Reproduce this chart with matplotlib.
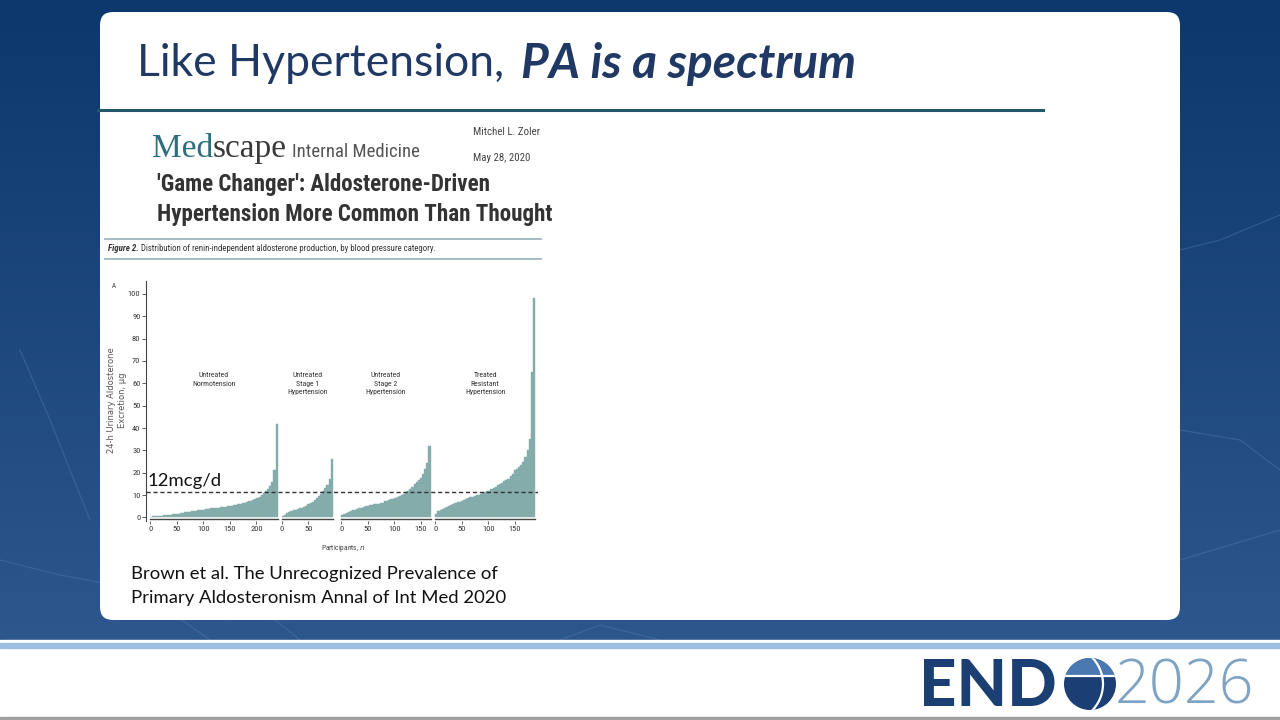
import numpy as np
import matplotlib
matplotlib.use("Agg")
import matplotlib.pyplot as plt
from matplotlib import font_manager
from matplotlib.patches import FancyBboxPatch, Circle, Rectangle, Ellipse

# sorted 24-h urinary aldosterone (ug), one value per bin of 4 participants
normo = [0.3, 0.4, 0.5, 0.6, 0.7, 0.8, 0.9, 1.0, 1.1, 1.2,
         1.3, 1.4, 1.5, 1.7, 1.9, 2.0, 2.2, 2.4, 2.6, 2.8,
         2.9, 3.0, 3.2, 3.3, 3.4, 3.5, 3.7, 3.8, 4.0, 4.1,
         4.2, 4.3, 4.4, 4.5, 4.7, 4.8, 5.0, 5.1, 5.3, 5.5,
         5.7, 5.9, 6.1, 6.3, 6.5, 6.8, 7.1, 7.4, 7.8, 8.2,
         8.7, 9.3, 10.0, 10.8, 11.7, 12.8, 14.0, 16.0, 21.0, 42.0]
stage1 = [0.6, 1.2, 1.8, 2.4, 3.0, 3.2,
          3.4, 3.7, 4.0, 4.4, 4.8, 5.3,
          5.8, 6.4, 7.0, 7.7, 8.5, 9.5,
          10.5, 11.7, 13.0, 14.5, 17.0, 26.0]
stage2 = [1.0, 1.5, 2.0, 2.4, 2.8, 3.1, 3.4, 3.7, 4.0, 4.3,
          4.6, 4.9, 5.2, 5.5, 5.7, 5.9, 6.0, 6.2, 6.4, 6.6,
          7.2, 7.5, 7.8, 8.1, 8.4, 8.7, 9.0, 9.4, 9.9, 10.5,
          11.3, 12.0, 12.8, 13.6, 14.8, 15.8, 16.5, 17.5, 19.5, 21.5,
          24.5, 32.0]
resistant = [1.5, 2.8, 3.4, 3.9, 4.3, 4.7, 5.1, 5.5, 5.9, 6.3,
             6.7, 7.0, 7.4, 7.8, 8.2, 8.6, 8.9, 9.2, 9.5, 9.8,
             10.0, 10.4, 10.8, 11.2, 11.6, 12.0, 12.6, 13.2, 13.8, 14.4,
             15.0, 15.6, 16.2, 16.6, 17.0, 18.5, 19.5, 21.0, 21.5, 22.5,
             23.5, 25.0, 27.0, 30.0, 35.0, 65.0, 98.0]
groups = [normo, stage1, stage2, resistant]
group_names = ["Untreated\nNormotension",
               "Untreated\nStage 1\nHypertension",
               "Untreated\nStage 2\nHypertension",
               "Treated\nResistant\nHypertension"]
group_ticks = [[0, 50, 100, 150, 200], [0, 50], [0, 50, 100, 150], [0, 50, 100, 150]]
group_start = [0, 248, 360, 537]
bin_n = 4
threshold = 11.5
y_ticks = list(range(0, 101, 10))

# pick a condensed sans if one is installed
fonts = font_manager.fontManager.ttflist
names = {f.name for f in fonts}
narrow, stretch = "Roboto", "normal"
for cand in ["Liberation Sans Narrow", "Roboto Condensed", "Noto Sans Condensed",
             "Open Sans Condensed", "DejaVu Sans Condensed"]:
    if cand in names:
        narrow = cand
        break
else:
    for f in fonts:
        if f.name in ("Noto Sans", "DejaVu Sans", "Open Sans") and f.stretch in ("condensed", "semi-condensed"):
            narrow, stretch = f.name, f.stretch
            break
NARROW = dict(family=narrow, stretch=stretch)

slide_font = "Lato"
navy = "#1f3864"
bar_color = "#84acaa"

fig = plt.figure(figsize=(12.8, 7.2), dpi=100)
renderer = fig.canvas.get_renderer()

# slide background in pixel coordinates
bg = fig.add_axes([0, 0, 1, 1])
bg.set_xlim(0, 1280)
bg.set_ylim(720, 0)
bg.axis("off")
t = np.linspace(0, 1, 64)[:, None, None]
c_top = np.array([13, 56, 110]) / 255
c_bot = np.array([44, 86, 140]) / 255
grad = c_top + (c_bot - c_top) * t * np.ones((1, 32, 1))
bg.imshow(grad, extent=[0, 1280, 640, 0], aspect="auto", zorder=0)
# faint nerve-fibre texture
for xs, ys in [([0, 60, 140, 210], [560, 575, 590, 640]),
               ([1180, 1230, 1280], [560, 545, 530]),
               ([1180, 1240, 1280], [430, 440, 470]),
               ([1180, 1220, 1280], [250, 240, 215]),
               ([20, 50, 90], [350, 420, 520]),
               ([230, 250, 300], [620, 600, 640]),
               ([560, 600, 660], [640, 625, 640])]:
    bg.plot(xs, ys, color="#5a80b0", lw=1.0, alpha=0.35, zorder=0.5)
bg.add_patch(Rectangle((0, 640), 1280, 80, color="white", zorder=1))
bg.add_patch(Rectangle((0, 643), 1280, 5, color="#9cbfe0", zorder=2))
bg.add_patch(Rectangle((0, 717), 1280, 3, color="#a0a0a0", zorder=2))

card = FancyBboxPatch((100, 12), 1080, 608, boxstyle="round,pad=0,rounding_size=13",
                      facecolor="white", edgecolor="none", zorder=3)
bg.add_patch(card)

bg.text(137, 64, "Like Hypertension,", fontsize=32, color=navy, family=slide_font,
        va="center", ha="left", zorder=5)
bg.text(521, 64, "PA is a spectrum", fontsize=34.5, color=navy, family=slide_font,
        fontweight="bold", style="italic", va="center", ha="left", zorder=5)
bg.plot([98, 1043], [110, 110], color="#22566a", lw=2.2, zorder=5)

# Medscape header
t_med = bg.text(152, 157, "Med", fontsize=24, color="#2c6f7c", family="Liberation Serif", zorder=5)
x_end = t_med.get_window_extent(renderer).x1
t_sc = bg.text(x_end - 1, 157, "scape", fontsize=24, color="#3a3a3a", family="Liberation Serif", zorder=5)
x_end = t_sc.get_window_extent(renderer).x1
bg.text(x_end + 6, 157, "Internal Medicine", fontsize=13.5, color="#555555", zorder=5, **NARROW)
bg.text(473, 135, "Mitchel L. Zoler", fontsize=7.8, color="#444444", zorder=5, **NARROW)
bg.text(473, 161, "May 28, 2020", fontsize=7.8, color="#444444", zorder=5, **NARROW)
bg.text(157, 191, "'Game Changer': Aldosterone-Driven", fontsize=16.6, color="#333333",
        fontweight="bold", zorder=5, **NARROW)
bg.text(157, 221, "Hypertension More Common Than Thought", fontsize=16.6, color="#333333",
        fontweight="bold", zorder=5, **NARROW)
bg.plot([105, 541], [239, 239], color="#9db8bc", lw=1.3, zorder=5)
bg.plot([105, 541], [259, 259], color="#9db8bc", lw=1.3, zorder=5)
t_fig = bg.text(108, 251, "Figure 2.", fontsize=6.4, color="#333333", fontweight="bold",
                style="italic", zorder=5, **NARROW)
x_end = t_fig.get_window_extent(renderer).x1
bg.text(x_end + 2, 251, "Distribution of renin-independent aldosterone production, by blood pressure category.",
        fontsize=6.3, color="#333333", zorder=5, **NARROW)

bg.text(112, 288, "A", fontsize=5, color="#444444", zorder=5, **NARROW)
bg.text(117, 400, "24-h Urinary Aldosterone\nExcretion, μg", fontsize=6, color="#555555",
        rotation=90, ha="center", va="center", family="DejaVu Sans", linespacing=1.3, zorder=5)
bg.text(343, 549, r"Participants, $\it{n}$", fontsize=5.3, color="#444444",
        ha="center", va="center", zorder=5, **NARROW)

bg.text(131, 579, "Brown et al. The Unrecognized Prevalence of", fontsize=13.3, color="#111111",
        family=slide_font, zorder=5)
bg.text(131, 603, "Primary Aldosteronism Annal of Int Med 2020", fontsize=13.3, color="#111111",
        family=slide_font, zorder=5)

# ENDO 2026 logo
bg.text(919, 706, "END", fontsize=47, color="#1c3f73", family=slide_font, fontweight="black", zorder=5)
globe = Circle((1090, 684), 26, facecolor="#1b3f75", edgecolor="none", zorder=5)
bg.add_patch(globe)
top_cap = Rectangle((1060, 655), 60, 21, facecolor="#4a78b0", edgecolor="none", zorder=6)
bg.add_patch(top_cap)
top_cap.set_clip_path(globe)
line, = bg.plot([1060, 1120], [676, 676], color="white", lw=1.6, zorder=7)
line.set_clip_path(globe)
meridian = Ellipse((1060, 684), 86, 80, facecolor="none", edgecolor="white", lw=1.6, zorder=7)
bg.add_patch(meridian)
meridian.set_clip_path(globe)
bg.text(1115, 704, "2026", fontsize=44, color="#7ea3c3", family="Open Sans", fontweight="light", zorder=5)

# chart
ax = fig.add_axes([0.1141, 0.2768, 0.306, 0.3335])
ax.set_facecolor("none")
ax.set_zorder(10)
for vals, start in zip(groups, group_start):
    x = start + bin_n * np.arange(len(vals)) + bin_n / 2
    ax.bar(x, vals, width=bin_n, color=bar_color, edgecolor=bar_color, linewidth=0.3)
    ax.plot([start, start + bin_n * len(vals)], [-0.9, -0.9], color="#444444", lw=1.0)

tick_pos = []
tick_lab = []
for ticks, start, vals, name in zip(group_ticks, group_start, groups, group_names):
    tick_pos += [start + v for v in ticks]
    tick_lab += [str(v) for v in ticks]
    ax.text(start + bin_n * len(vals) / 2, 65, name, ha="center", va="top", fontsize=5.6,
            color="#333333", linespacing=1.5, **NARROW)

ax.axhline(threshold, color="#333333", lw=1.0, dashes=(3, 2))
ax.text(-6, threshold + 1.3, "12mcg/d", fontsize=13.3, family=slide_font, color="#111111",
        va="bottom", ha="left")

ax.set_xlim(-8, 730)
ax.set_ylim(-1.5, 106)
ax.set_xticks(tick_pos)
ax.set_xticklabels(tick_lab, fontsize=6, color="#333333", **NARROW)
ax.set_yticks(y_ticks)
ax.set_yticklabels([str(v) for v in y_ticks], fontsize=6, color="#333333", **NARROW)
ax.tick_params(axis="x", length=2, width=0.6, pad=2, color="#444444")
ax.tick_params(axis="y", length=3, width=0.6, pad=1, color="#444444")
for s in ["top", "right", "bottom"]:
    ax.spines[s].set_visible(False)
ax.spines["left"].set_color("#444444")
ax.spines["left"].set_linewidth(0.8)

fig.savefig("out.png", dpi=100)
plt.close(fig)
